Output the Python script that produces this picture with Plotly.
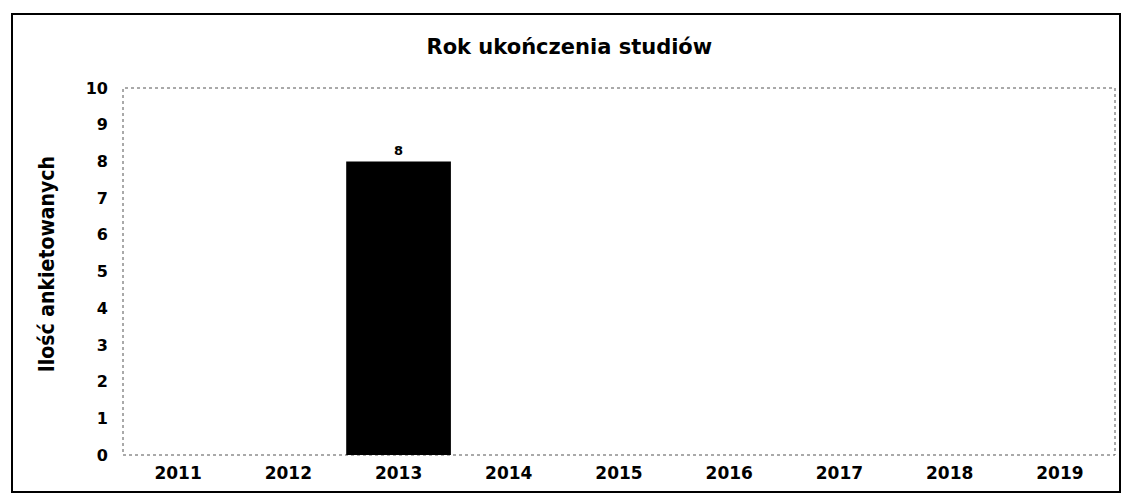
import plotly.graph_objects as go

years = ["2011", "2012", "2013", "2014", "2015", "2016", "2017", "2018", "2019"]
counts = [0, 0, 8, 0, 0, 0, 0, 0, 0]
y_ticks = [0, 1, 2, 3, 4, 5, 6, 7, 8, 9, 10]

labels = [str(v) if v else "" for v in counts]

fig = go.Figure(go.Bar(
    x=years, y=counts,
    text=labels, textposition="outside",
    textfont=dict(size=13, color="black", family="DejaVu Sans", weight="bold"),
    marker=dict(color="black", line=dict(width=0)),
    cliponaxis=False,
))

fig.update_layout(
    width=1123, height=497,
    margin=dict(l=123, r=8, t=88, b=42),
    paper_bgcolor="white", plot_bgcolor="white",
    bargap=0.05,
    showlegend=False,
    font=dict(family="DejaVu Sans", color="black"),
    title=dict(text="<b>Rok ukończenia studiów</b>", x=0.507, xanchor="center",
               y=1 - 47 / 497, yanchor="middle", yref="container",
               font=dict(size=21, family="DejaVu Sans", color="black")),
    xaxis=dict(showgrid=False, zeroline=False, ticks="", ticklabelstandoff=6,
               tickfont=dict(size=17, family="DejaVu Sans", weight="bold")),
    yaxis=dict(range=[0, 10], tickvals=y_ticks, showgrid=False, zeroline=False,
               ticks="", ticklabelstandoff=14,
               tickfont=dict(size=16, family="DejaVu Sans", weight="bold")),
    annotations=[dict(text="<b>Ilość ankietowanych</b>", xref="paper", yref="paper",
                      x=(47 - 123) / 992, y=0.52, textangle=-90, showarrow=False,
                      xanchor="center", yanchor="middle",
                      font=dict(size=21, family="DejaVu Sans Condensed, DejaVu Sans",
                                color="black"))],
    shapes=[
        dict(type="rect", xref="paper", yref="paper", x0=0, y0=0, x1=1, y1=1,
             line=dict(color="#555555", width=1, dash="dot"), layer="below"),
        dict(type="rect", xref="paper", yref="paper",
             x0=(12 - 123) / 992, x1=(1120 - 123) / 992,
             y0=(455 - 492) / 367, y1=(455 - 14) / 367,
             line=dict(color="black", width=2)),
    ],
)

fig.write_html("out.html", config={"displayModeBar": False},
               post_script="document.body.style.margin='0';")
